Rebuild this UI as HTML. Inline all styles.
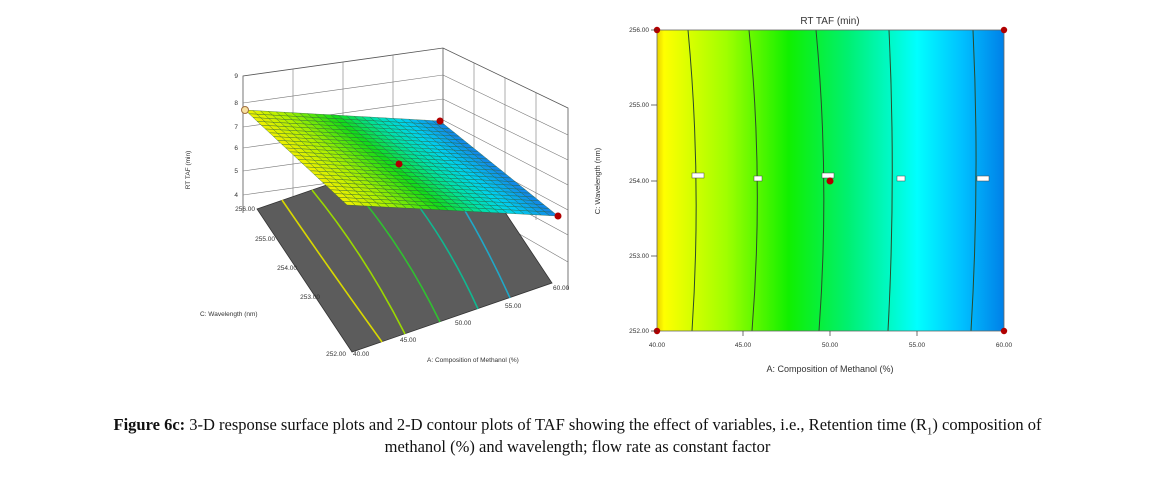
<!DOCTYPE html>
<html><head><meta charset="utf-8"><style>
html,body{margin:0;padding:0;background:#fff;}
body{width:1155px;height:482px;overflow:hidden;position:relative;font-family:"Liberation Sans",sans-serif;}
.cap{position:absolute;left:0;width:1155px;font-family:"Liberation Serif",serif;font-size:16.5px;color:#111;text-align:center;}
</style></head><body>
<svg id="s" width="1155" height="400" style="position:absolute;left:0;top:0" font-family="Liberation Sans, sans-serif">
<defs>
<linearGradient id="cg" x1="0" x2="1" y1="0" y2="0">
<stop offset="0" stop-color="#e8d000"/>
<stop offset="0.02" stop-color="#ffff00"/>
<stop offset="0.2" stop-color="#a0ff00"/>
<stop offset="0.38" stop-color="#10f000"/>
<stop offset="0.55" stop-color="#00f070"/>
<stop offset="0.75" stop-color="#00ffff"/>
<stop offset="0.88" stop-color="#00c0ff"/>
<stop offset="1" stop-color="#0080e8"/>
</linearGradient>
</defs>
<!-- 3D box -->
<g stroke="#555" stroke-width="0.8" fill="none">
<polyline points="243,213 243,76 443,48 568,108 568,290"/>
<line x1="443" y1="48" x2="443" y2="160"/>
<g stroke="#777" stroke-width="0.6">
<line x1="243" y1="103" x2="443" y2="75"/><line x1="243" y1="127" x2="443" y2="99"/>
<line x1="243" y1="148" x2="443" y2="120"/><line x1="243" y1="171" x2="443" y2="143"/>
<line x1="243" y1="195" x2="443" y2="167"/>
<line x1="443" y1="75" x2="568" y2="135"/><line x1="443" y1="99" x2="568" y2="160"/>
<line x1="443" y1="120" x2="568" y2="185"/><line x1="443" y1="143" x2="568" y2="210"/>
<line x1="443" y1="167" x2="568" y2="235"/><line x1="443" y1="190" x2="568" y2="262"/>
<line x1="293" y1="69" x2="293" y2="200"/><line x1="343" y1="62" x2="343" y2="190"/><line x1="393" y1="55" x2="393" y2="180"/>
<line x1="474" y1="63" x2="474" y2="180"/><line x1="505" y1="78" x2="505" y2="200"/><line x1="536" y1="93" x2="536" y2="220"/>
</g></g>
<polygon points="257,209 457,140 552,283 352,352" fill="#5c5c5c" stroke="#333" stroke-width="0.8"/>
<g fill="none" stroke-width="1.6">
<path d="M282,200 Q330,270 382,342" stroke="#d8d800"/>
<path d="M312,190 Q365,255 405,334" stroke="#9ad800"/>
<path d="M345,179 Q400,240 440,322" stroke="#30c030"/>
<path d="M385,165 Q440,225 478,309" stroke="#10b890"/>
<path d="M425,151 Q470,210 510,298" stroke="#20a8c8"/>
</g>
<g id="surf"></g>
<circle cx="245" cy="110" r="3.5" fill="#f8e0a0" stroke="#a07040"/>
<circle cx="440" cy="121" r="3.5" fill="#b00000"/>
<circle cx="399" cy="164" r="3.5" fill="#b00000"/>
<circle cx="558" cy="216" r="3.5" fill="#b00000"/>
<g font-size="6.5" fill="#333" text-anchor="end">
<text x="238" y="78">9</text><text x="238" y="105">8</text><text x="238" y="129">7</text>
<text x="238" y="150">6</text><text x="238" y="173">5</text><text x="238" y="197">4</text>
<text x="255" y="211">256.00</text><text x="275" y="241">255.00</text><text x="297" y="270">254.00</text>
<text x="320" y="299">253.00</text><text x="346" y="356">252.00</text>
</g>
<g font-size="6.5" fill="#333">
<text x="353" y="356">40.00</text><text x="400" y="342">45.00</text><text x="455" y="325">50.00</text>
<text x="505" y="308">55.00</text><text x="553" y="290">60.00</text>
<text x="427" y="362">A: Composition of Methanol (%)</text>
<text x="200" y="316">C: Wavelength (nm)</text>
</g>
<text transform="translate(190,170) rotate(-90)" font-size="6.5" fill="#333" text-anchor="middle">RT TAF (min)</text>

<!-- contour plot -->
<rect x="657" y="30" width="347" height="301" fill="url(#cg)"/>
<g fill="none" stroke="#2a4a2a" stroke-width="1">
<path d="M688,30 Q702,180 692,331"/>
<path d="M749,30 Q764,180 752,331"/>
<path d="M816,30 Q830,180 819,331"/>
<path d="M889,30 Q896,180 888,331"/>
<path d="M973,30 Q980,180 971,331"/>
</g>
<g fill="#fff" stroke="#444" stroke-width="0.5">
<rect x="692" y="173" width="12" height="5"/><rect x="754" y="176" width="8" height="5"/>
<rect x="822" y="173" width="12" height="5"/><rect x="897" y="176" width="8" height="5"/><rect x="977" y="176" width="12" height="5"/>
</g>
<rect x="657" y="30" width="347" height="301" fill="none" stroke="#666" stroke-width="0.8"/>
<g fill="#b00000"><circle cx="657" cy="30" r="3.2"/><circle cx="1004" cy="30" r="3.2"/><circle cx="657" cy="331" r="3.2"/><circle cx="1004" cy="331" r="3.2"/><circle cx="830" cy="181" r="3.5"/></g>
<g stroke="#333" stroke-width="0.7">
<line x1="651" y1="30" x2="657" y2="30"/><line x1="651" y1="105" x2="657" y2="105"/><line x1="651" y1="181" x2="657" y2="181"/><line x1="651" y1="256" x2="657" y2="256"/><line x1="651" y1="331" x2="657" y2="331"/>
<line x1="743" y1="331" x2="743" y2="336"/><line x1="830" y1="331" x2="830" y2="336"/><line x1="917" y1="331" x2="917" y2="336"/>
</g>
<g font-size="6.5" fill="#333" text-anchor="end">
<text x="649" y="32">256.00</text><text x="649" y="107">255.00</text><text x="649" y="183">254.00</text><text x="649" y="258">253.00</text><text x="649" y="333">252.00</text>
</g>
<g font-size="6.5" fill="#333" text-anchor="middle">
<text x="657" y="347">40.00</text><text x="743" y="347">45.00</text><text x="830" y="347">50.00</text><text x="917" y="347">55.00</text><text x="1004" y="347">60.00</text>
</g>
<text x="830" y="372" font-size="9" fill="#333" text-anchor="middle">A: Composition of Methanol (%)</text>
<text x="830" y="24" font-size="10" fill="#333" text-anchor="middle">RT TAF (min)</text>
<text transform="translate(600,181) rotate(-90)" font-size="7.5" fill="#333" text-anchor="middle">C: Wavelength (nm)</text>
</svg>
<div class="cap" style="top:415px;"><b>Figure 6c:</b> 3-D response surface plots and 2-D contour plots of TAF showing the effect of variables, i.e., Retention time (R<sub style="font-size:11px">1</sub>) composition of</div>
<div class="cap" style="top:437px;">methanol (%) and wavelength; flow rate as constant factor</div>
<script>
(function(){
var g=document.getElementById('surf');
var A=[245,110],B=[440,121],C=[558,216],D=[347,205];// A:(40,256) B:(60,256) C:(60,252) D:(40,252)
function P(u,v){ // u: methanol 0..1, v: 0 at 256,1 at 252
 var top=[A[0]+(B[0]-A[0])*u,A[1]+(B[1]-A[1])*u];
 var bot=[D[0]+(C[0]-D[0])*u,D[1]+(C[1]-D[1])*u];
 return [top[0]+(bot[0]-top[0])*v,top[1]+(bot[1]-top[1])*v];
}
var stops=[[0,[240,240,0]],[0.2,[170,240,0]],[0.45,[20,220,20]],[0.65,[0,225,170]],[0.8,[0,210,240]],[1,[20,130,230]]];
function col(t){for(var i=1;i<stops.length;i++){if(t<=stops[i][0]){var a=stops[i-1],b=stops[i],f=(t-a[0])/(b[0]-a[0]);return 'rgb('+a[1].map(function(x,k){return Math.round(x+(b[1][k]-x)*f)}).join(',')+')';}}return 'rgb(20,130,230)';}
var N=25,h='';
for(var i=0;i<N;i++)for(var j=0;j<N;j++){
 var p=[P(i/N,j/N),P((i+1)/N,j/N),P((i+1)/N,(j+1)/N),P(i/N,(j+1)/N)];
 h+='<polygon points="'+p.map(function(q){return q[0].toFixed(1)+','+q[1].toFixed(1)}).join(' ')+'" fill="'+col((i+0.5)/N)+'" stroke="#2a5a3a" stroke-width="0.35"/>';
}
g.innerHTML=h;
})();
</script>
</body></html>
